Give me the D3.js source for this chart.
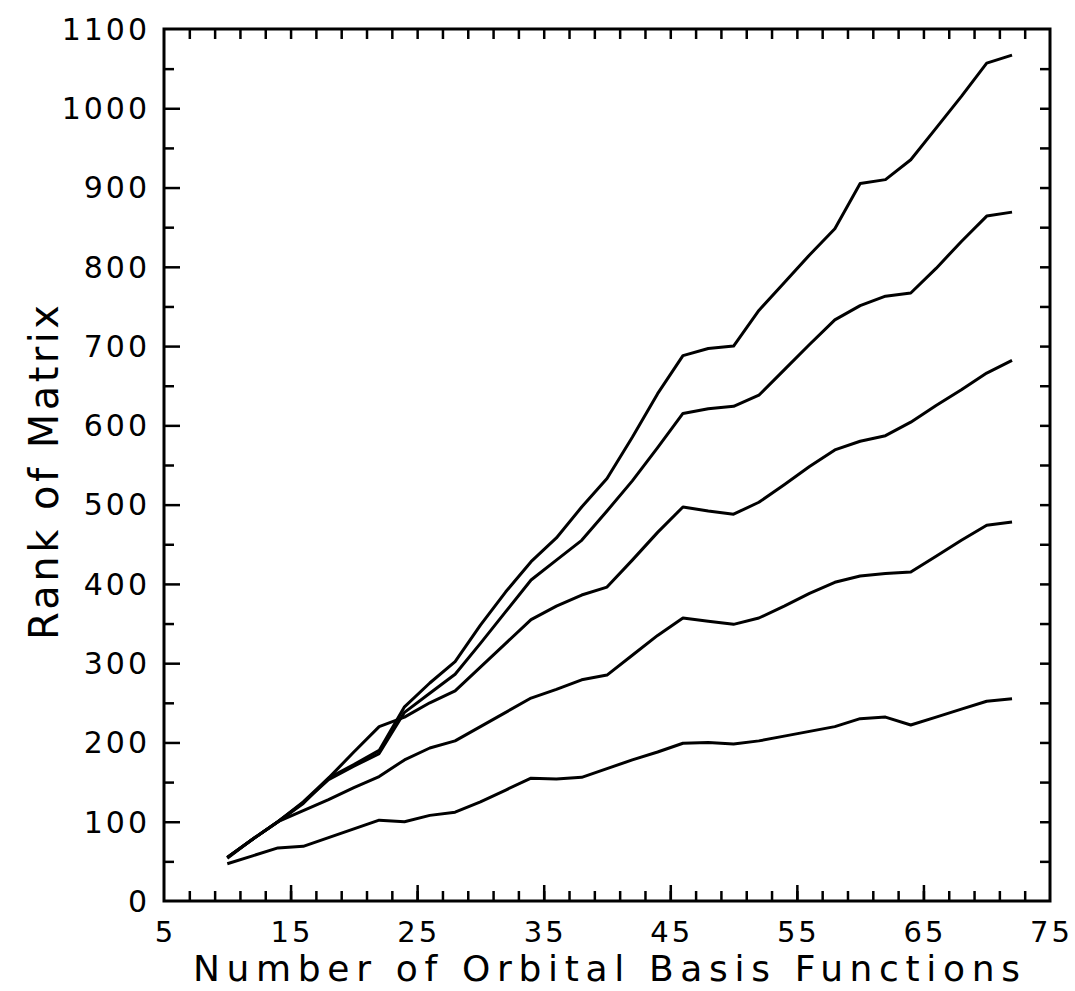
<!DOCTYPE html>
<html>
<head>
<meta charset="utf-8">
<script src="https://cdn.jsdelivr.net/npm/d3@7"></script>
<style>
  html, body { margin: 0; padding: 0; background: #fff; }
  svg { display: block; }
  text { font-family: "DejaVu Sans", sans-serif; fill: #000; }
</style>
</head>
<body>
<svg id="chart" width="1075" height="991"></svg>
<script>
// ---- data ----
const basisFunctions = [10,12,14,16,18,20,22,24,26,28,30,32,34,36,38,40,42,44,46,48,50,52,54,56,58,60,62,64,66,68,70,72];
const series1 = [55,78,100,125,155,172,190,245,275,302,348,390,428,458,497,533,585,640,688,697,700,745,780,815,848,905,910,935,975,1015,1057,1067];
const series2 = [55,78,100,124,153,170,186,238,262,286,325,365,405,430,455,492,530,572,615,621,624,638,670,702,733,751,763,767,798,832,864,869];
const series3 = [55,78,100,123,155,188,220,232,250,265,295,325,355,372,386,396,430,465,497,492,488,503,525,548,569,580,587,604,625,645,666,682];
const series4 = [54,78,100,114,128,143,157,178,193,202,220,238,256,267,279,285,310,335,357,353,349,357,372,388,402,410,413,415,435,455,474,478];
const series5 = [47,57,67,69,80,91,102,100,108,112,125,140,155,154,156,167,178,188,199,200,198,202,208,214,220,230,232,222,232,242,252,255];
const xTickLabels = [5,15,25,35,45,55,65,75];
const yTickLabels = [0,100,200,300,400,500,600,700,800,900,1000,1100];
const xTitle = "Number of Orbital Basis Functions";
const yTitle = "Rank of Matrix";

// ---- layout ----
const svg = d3.select("#chart");
const pLeft = 164, pRight = 1050, pTop = 29, pBottom = 901;
const x = d3.scaleLinear().domain([5, 75]).range([pLeft, pRight]);
const y = d3.scaleLinear().domain([0, 1100]).range([pBottom, pTop]);

const allSeries = [series1, series2, series3, series4, series5];

// frame
svg.append("rect")
  .attr("x", pLeft).attr("y", pTop)
  .attr("width", pRight - pLeft).attr("height", pBottom - pTop)
  .attr("fill", "none").attr("stroke", "#000").attr("stroke-width", 3);

const tickStroke = 2.5;
function styleAxis(g) {
  g.select(".domain").remove();
  g.selectAll("line").attr("stroke", "#000").attr("stroke-width", tickStroke);
}
// bottom axis (inward ticks)
const xMinor = d3.range(7, 75, 2);
const xMajor = xTickLabels.filter(v => v > 5 && v < 75);
svg.append("g").attr("transform", `translate(0,${pBottom})`)
  .call(d3.axisBottom(x).tickValues(xMinor).tickSize(-10).tickFormat("")).call(styleAxis);
svg.append("g").attr("transform", `translate(0,${pBottom})`)
  .call(d3.axisBottom(x).tickValues(xMajor).tickSize(-16).tickFormat("")).call(styleAxis);

// top axis
svg.append("g").attr("transform", `translate(0,${pTop})`)
  .call(d3.axisTop(x).tickValues(xMinor).tickSize(-10).tickFormat("")).call(styleAxis);

// left axis
const yMinor = d3.range(50, 1100, 100);
const yMajor = yTickLabels.filter(v => v > 0 && v < 1100);
svg.append("g").attr("transform", `translate(${pLeft},0)`)
  .call(d3.axisLeft(y).tickValues(yMinor).tickSize(-10).tickFormat("")).call(styleAxis);
svg.append("g").attr("transform", `translate(${pLeft},0)`)
  .call(d3.axisLeft(y).tickValues(yMajor).tickSize(-16).tickFormat("")).call(styleAxis);

// right axis
svg.append("g").attr("transform", `translate(${pRight},0)`)
  .call(d3.axisRight(y).tickValues(yMinor.concat(yMajor)).tickSize(-10).tickFormat("")).call(styleAxis);

// tick labels
svg.append("g").selectAll("text").data(yTickLabels).join("text")
  .attr("x", 150).attr("y", d => y(d)).attr("dy", "0.36em")
  .attr("text-anchor", "end")
  .style("font-size", "30px").style("letter-spacing", "3px")
  .text(d => d);

svg.append("g").selectAll("text").data(xTickLabels).join("text")
  .attr("x", d => x(d) + 1.5).attr("y", 942)
  .attr("text-anchor", "middle")
  .style("font-size", "29px").style("letter-spacing", "3px")
  .text(d => d);

// axis titles
svg.append("text")
  .attr("x", 193).attr("y", 981)
  .attr("textLength", 827).attr("lengthAdjust", "spacing")
  .style("font-size", "36px")
  .text(xTitle);

svg.append("text")
  .attr("transform", "translate(58,640) rotate(-90)")
  .attr("x", 0).attr("y", 0)
  .attr("textLength", 335).attr("lengthAdjust", "spacing")
  .style("font-size", "40px")
  .text(yTitle);

// lines
const line = d3.line()
  .x((d, i) => x(basisFunctions[i]))
  .y(d => y(d));

svg.append("g").selectAll("path").data(allSeries).join("path")
  .attr("d", d => line(d))
  .attr("fill", "none")
  .attr("stroke", "#000")
  .attr("stroke-width", 3)
  .attr("stroke-linejoin", "round");
</script>
</body>
</html>
